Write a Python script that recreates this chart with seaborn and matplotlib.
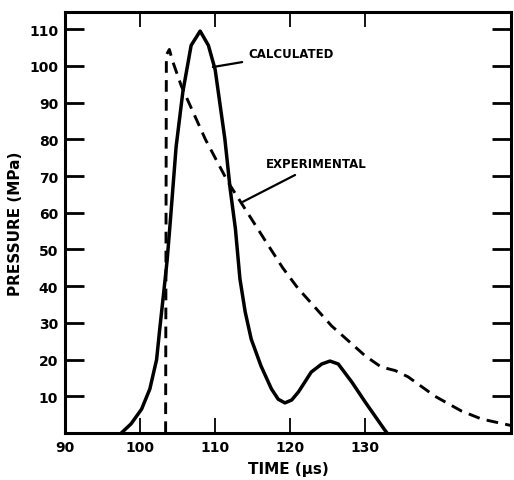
import pandas as pd
import matplotlib.pyplot as plt
import seaborn as sns

# values
calc_time = [97.5, 98.8, 100.2, 101.3, 102.2, 102.6, 103.1, 103.6, 104.0, 104.8,
             105.7, 106.8, 108.0, 109.1, 110.0, 111.3, 112.0, 112.7, 113.3, 114.0,
             114.8, 116.1, 117.5, 118.4, 119.3, 120.2, 121.1, 122.8, 124.2, 125.3,
             126.4, 128.2, 130.0, 132.6, 132.9]
calc_pressure = [0, 2.5, 6.5, 12, 20, 28, 37.4, 47, 57, 78,
                 93, 105.6, 109.5, 105.6, 99, 80, 66.5, 55.6, 42, 33,
                 25.6, 18.3, 12, 9.2, 8.2, 9.0, 11.2, 16.6, 18.8, 19.6,
                 18.8, 13.9, 8.4, 0.8, 0]

exp_time = [103.4, 103.5, 103.9, 104.3, 105.5, 108.7, 111.7, 116.8, 119.0, 121.0,
            125.5, 130.0, 132.1, 134.0, 135.7, 139.3, 142.8, 145.5, 149.5]
exp_pressure = [0, 103, 104.5, 101.5, 94.5, 80, 68.4, 52, 45, 39.5,
                29.2, 21, 18, 17, 15.3, 10, 6, 3.8, 2]

x_ticks = [90, 100, 110, 120, 130]
y_ticks = [10, 20, 30, 40, 50, 60, 70, 80, 90, 100, 110]

calc = pd.DataFrame({"time": calc_time, "pressure": calc_pressure})
exp = pd.DataFrame({"time": exp_time, "pressure": exp_pressure})

sns.set_style("white")
plt.rcParams["font.family"] = ["DejaVu Sans"]
plt.rcParams["font.weight"] = "bold"
plt.rcParams["text.color"] = "black"
plt.rcParams["axes.labelcolor"] = "black"
plt.rcParams["xtick.color"] = "black"
plt.rcParams["ytick.color"] = "black"

fig = plt.figure(figsize=(5.14, 4.81), dpi=100)
ax = fig.add_axes([0.1265, 0.0977, 0.8675, 0.8753])

sns.lineplot(data=calc, x="time", y="pressure", sort=False, color="black",
             linewidth=2.5, ax=ax)
sns.lineplot(data=exp, x="time", y="pressure", sort=False, color="black",
             linewidth=2.1, ax=ax)
ax.lines[-1].set_dashes([4, 2.5])
ax.lines[0].set_solid_joinstyle("round")
ax.lines[0].set_solid_capstyle("round")

ax.set_xlim(90, 149.4)
ax.set_ylim(0, 114.7)
ax.set_xticks(x_ticks)
ax.set_yticks(y_ticks)
ax.tick_params(axis="y", direction="in", length=14, width=2, left=True, right=True,
               labelsize=10, pad=5)
ax.tick_params(axis="x", direction="in", length=11, width=1.3, bottom=True, top=True,
               labelsize=10, pad=5)
for lab in ax.get_xticklabels() + ax.get_yticklabels():
    lab.set_fontweight("bold")
for sp in ax.spines.values():
    sp.set_linewidth(2.2)
    sp.set_color("black")

ax.set_xlabel("TIME (μs)", fontsize=11, fontweight="bold", labelpad=5)
ax.set_ylabel("PRESSURE (MPa)", fontsize=11, fontweight="bold", labelpad=4)

ax.annotate("CALCULATED", xy=(109.7, 99.7), xytext=(114.4, 103.3),
            fontsize=8.5, fontweight="bold", va="center", ha="left",
            arrowprops=dict(arrowstyle="-", color="black", lw=1.6, shrinkB=0, shrinkA=2))
ax.annotate("EXPERIMENTAL", xy=(113.7, 63), xytext=(116.8, 73.3),
            fontsize=8.5, fontweight="bold", va="center", ha="left",
            arrowprops=dict(arrowstyle="-", color="black", lw=1.6, shrinkB=0, shrinkA=2))

fig.savefig("out.png", dpi=100)
